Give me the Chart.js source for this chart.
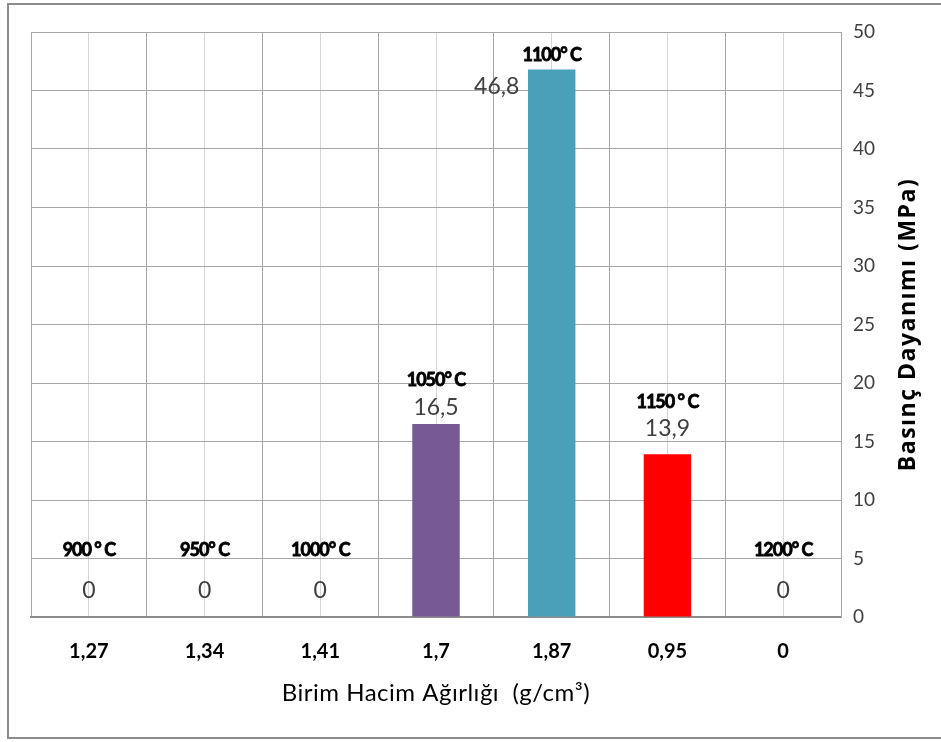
<!DOCTYPE html>
<html>
<head>
<meta charset="utf-8">
<script src="https://cdn.jsdelivr.net/npm/chart.js@4/dist/chart.umd.min.js"></script>
<style>
  body { margin: 0; background: #fff; }
</style>
</head>
<body>
<canvas id="grafico" width="941" height="742"></canvas>
<script>
// data
const densidades = ['1,27', '1,34', '1,41', '1,7', '1,87', '0,95', '0'];
const temperaturas = ['900 ° C', '950° C', '1000° C', '1050° C', '1100° C', '1150 ° C', '1200° C'];
const resistencia = [0, 0, 0, 16.5, 46.8, 13.9, 0];
const coresBarras = ['#4f81bd', '#4f81bd', '#4f81bd', '#775a95', '#4aa0b8', '#ff0000', '#4f81bd'];
const yTicks = [0, 5, 10, 15, 20, 25, 30, 35, 40, 45, 50];

const FONTE = 'Lato, "Open Sans", sans-serif';

// label offsets (Excel labels were moved by hand)
const offsetValor = [[0, -26], [0, -26], [0, -26], [0, -16], [-55, 17], [0, -26], [0, -26]];
const offsetTemp = [[0, -67], [0, -67], [0, -67], [0, -44], [0, -14], [0, -52], [0, -67]];

const moldura = {
    id: 'moldura',
    beforeDraw(chart) {
        const c = chart.ctx;
        c.save();
        c.fillStyle = '#fff';
        c.fillRect(0, 0, chart.width, chart.height);
        c.strokeStyle = '#8c8c8c';
        c.lineWidth = 2;
        c.strokeRect(8, 4, 1000, 734);
        c.restore();
    },
    afterDraw(chart) {
        const c = chart.ctx;
        const meta = chart.getDatasetMeta(0);
        c.save();
        c.textAlign = 'center';
        c.textBaseline = 'middle';
        meta.data.forEach((bar, i) => {
            const x = bar.x, y = bar.y;
            c.font = '23px ' + FONTE;
            c.fillStyle = '#404040';
            const txt = String(resistencia[i]).replace('.', ',');
            c.fillText(txt, x + offsetValor[i][0], y + offsetValor[i][1]);
            // temperatura: negrito condensado
            c.font = 'bold 18px ' + FONTE;
            c.fillStyle = '#000';
            c.strokeStyle = '#000';
            c.lineWidth = 0.8;
            c.letterSpacing = '-1px';
            c.fillText(temperaturas[i], x + offsetTemp[i][0], y + offsetTemp[i][1]);
            c.strokeText(temperaturas[i], x + offsetTemp[i][0], y + offsetTemp[i][1]);
            c.letterSpacing = '0px';
        });
        // titulos dos eixos
        const area = chart.chartArea;
        c.fillStyle = '#000';
        c.font = '24px ' + FONTE;
        c.letterSpacing = '0.5px';
        c.fillText('Birim Hacim Ağırlığı  (g/cm³)', (area.left + area.right) / 2, 693);
        c.translate(908, (area.top + area.bottom) / 2);
        c.rotate(-Math.PI / 2);
        c.font = 'bold 23px "Open Sans", sans-serif';
        c.letterSpacing = '1.5px';
        c.fillText('Basınç Dayanımı (MPa)', 0, 0);
        c.letterSpacing = '0px';
        c.restore();
    }
};

const ctx = document.getElementById('grafico').getContext('2d');
const myChart = new Chart(ctx, {
    type: 'bar',
    data: {
        labels: densidades,
        datasets: [{
            label: 'Basınç Dayanımı',
            data: resistencia,
            backgroundColor: coresBarras,
            borderWidth: 0,
            categoryPercentage: 1,
            barPercentage: 0.41
        }]
    },
    options: {
        responsive: false,
        animation: false,
        layout: { padding: { left: 31, top: 32, right: 0, bottom: 0 } },
        plugins: { legend: { display: false }, tooltip: { enabled: false } },
        scales: {
            x: {
                position: 'bottom',
                grid: { offset: true, color: '#a6a6a6', drawTicks: false },
                border: { color: '#8c8c8c', width: 2 },
                ticks: { color: '#000', font: { family: FONTE, size: 20, weight: 'bold' }, padding: 23 },
                afterFit(s) { s.height = 125; }
            },
            x2: {
                position: 'bottom',
                labels: densidades,
                offset: true,
                grid: { offset: false, color: '#d4d4d4', drawTicks: false },
                border: { display: false },
                ticks: { display: false },
                afterFit(s) { s.height = 0; }
            },
            y: {
                position: 'right',
                min: 0,
                max: 50,
                afterBuildTicks(s) { s.ticks = yTicks.map(v => ({ value: v })); },
                grid: { color: '#a6a6a6', drawTicks: false },
                border: { color: '#a6a6a6' },
                ticks: { color: '#404040', font: { family: FONTE, size: 19 }, padding: 12 },
                afterFit(s) { s.width = 100; }
            }
        }
    },
    plugins: [moldura]
});
</script>
</body>
</html>
